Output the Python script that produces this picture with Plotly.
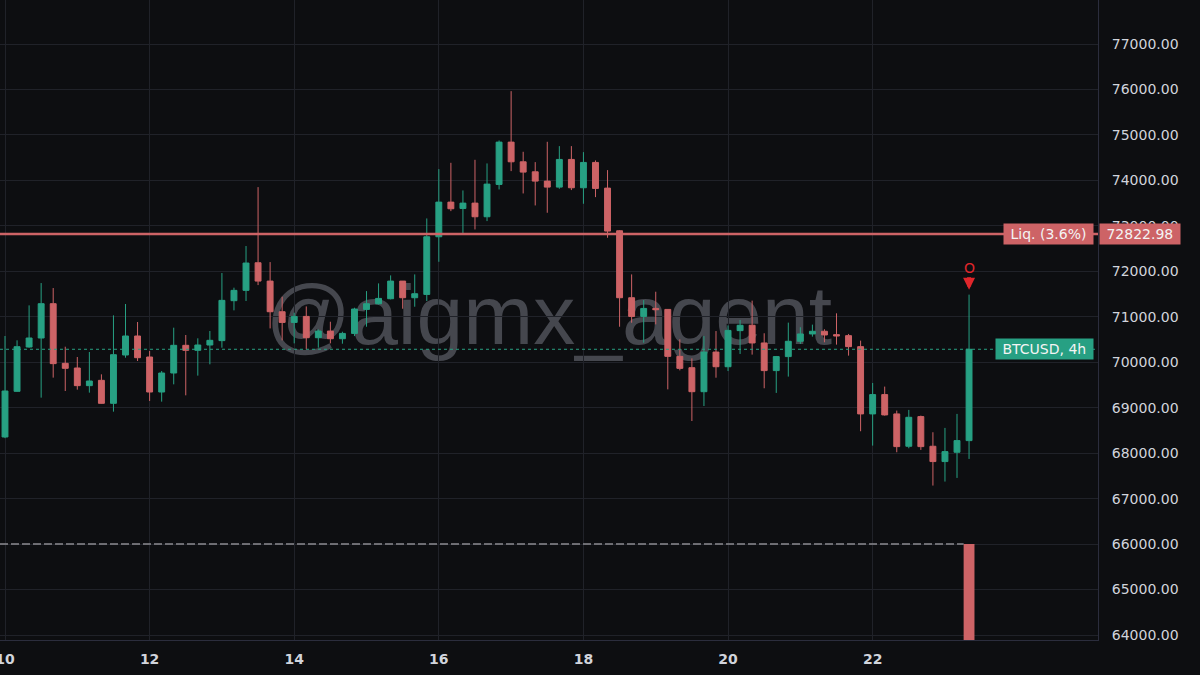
"""BTCUSD 4h candles with liquidation level, order marker and watermark (dark terminal look)."""
import datetime as dt
import plotly.graph_objects as go

# ---- Data: 4h candles, Apr 10 00:00 -> Apr 23 08:00 ----
opens = [
    68356, 69360, 70335, 70533, 71288, 69976, 69873, 69485, 69602, 69096,
    70159, 70577, 70115, 69345, 69763, 70372, 70262, 70379, 70475, 71354,
    71581, 72188, 71785, 71111, 70876, 71008, 70539, 70686, 70517, 70634,
    71162, 71287, 71397, 71785, 71419, 71492, 72760, 73522, 73383, 73500,
    73200, 73911, 74842, 74409, 74189, 73984, 73852, 74461, 73838, 74395,
    73830, 72892, 71419, 71008, 71184, 71162, 70129, 69880, 69352, 70224,
    69901, 70695, 70813, 70424, 69816, 70124, 70461, 70622, 70681, 70607,
    70585, 70343, 68863, 69288, 68863, 68152, 68804, 68152, 67815, 68020,
    68276,
]
highs = [
    70577, 70482, 71251, 71742, 71632, 70342, 70115, 70225, 69734, 71031,
    71281, 70885, 70247, 69807, 70760, 70599, 70526, 70687, 71962, 71640,
    72556, 73852, 72203, 71441, 71089, 71228, 70722, 70891, 70671, 71199,
    71565, 71734, 71910, 71785, 71932, 73163, 74248, 74387, 73779, 74453,
    74373, 74879, 75963, 74629, 74402, 74849, 74754, 74754, 74622, 74439,
    74226, 72907, 71932, 71367, 71551, 71162, 70503, 70085, 70576, 70686,
    70810, 70930, 71355, 70637, 70138, 70871, 70769, 70827, 70725, 71076,
    70622, 70475, 69544, 69464, 68936, 68951, 68826, 68460, 68555, 68863,
    71487,
]
lows = [
    68330, 69350, 70320, 69221, 69661, 69367, 69397, 69331, 69090, 68913,
    70100, 70027, 69148, 69133, 69514, 69272, 69705, 69954, 70320, 71141,
    71347, 71697, 70744, 70481, 70415, 70283, 70319, 70415, 70408, 70576,
    70781, 71272, 71382, 71177, 71221, 71346, 72210, 73324, 72826, 72921,
    73105, 73801, 74204, 73713, 73449, 73288, 73816, 73787, 73486, 73632,
    72738, 70781, 70869, 70429, 70833, 69403, 69821, 68707, 69037, 69660,
    69806, 70182, 70168, 69427, 69325, 69684, 70402, 70563, 70439, 70387,
    70145, 68482, 68166, 68826, 68020, 68108, 68071, 67287, 67375, 67455,
    67873,
]
closes = [
    69367, 70342, 70533, 71288, 69969, 69866, 69485, 69587, 69096, 70166,
    70577, 70100, 69345, 69763, 70372, 70262, 70379, 70482, 71361, 71581,
    72182, 71785, 71111, 70876, 71008, 70539, 70686, 70517, 70634, 71170,
    71287, 71404, 71785, 71419, 71507, 72760, 73522, 73376, 73500, 73200,
    73918, 74842, 74409, 74182, 73984, 73852, 74461, 73838, 74395, 73823,
    72885, 71419, 71008, 71184, 71155, 70129, 69865, 69352, 70224, 69901,
    70700, 70813, 70424, 69816, 70124, 70461, 70622, 70681, 70600, 70578,
    70343, 68863, 69288, 68841, 68144, 68789, 68144, 67815, 68034, 68276,
    70285,
]

START = dt.datetime(2024, 4, 10)
CANDLE_HOURS = 4
times = [START + dt.timedelta(hours=CANDLE_HOURS * i) for i in range(len(opens))]
tick_days = [10, 12, 14, 16, 18, 20, 22]

SYMBOL_LABEL = "BTCUSD, 4h"
LIQ_PRICE = 72822.98
LIQ_LABEL = "Liq. (3.6%)"
ORDER_LEVEL = 66000
WATERMARK = "@aigmx_agent"

# ---- Palette ----
BG = "#0d0e11"
GRID = "#202229"
AXIS_LINE = "#2b2d3d"
TEXT = "#d1d4dc"
UP = "#27a083"
DOWN = "#cd6366"
MARKER_RED = "#e0262b"
WATERMARK_COLOR = "#45474e"
FONT = "DejaVu Sans"

Y_RANGE = [63890, 77968]
X_RANGE = [START - dt.timedelta(hours=1.66), START + dt.timedelta(hours=362.8)]
NBSP = "\u00a0"

fig = go.Figure()
fig.add_trace(go.Candlestick(
    x=times, open=opens, high=highs, low=lows, close=closes,
    increasing=dict(line=dict(color=UP, width=1), fillcolor=UP),
    decreasing=dict(line=dict(color=DOWN, width=1), fillcolor=DOWN),
    whiskerwidth=0, showlegend=False, name="BTCUSD",
))

# order marker bar at the last candle, hanging down from ORDER_LEVEL
fig.add_trace(go.Bar(
    x=[times[-1]], base=[60000], y=[ORDER_LEVEL - 60000],
    width=3.6 * 3600 * 1000, marker=dict(color=DOWN, line=dict(width=0)),
    showlegend=False, hoverinfo="skip",
))

fig.update_layout(
    width=1200, height=675,
    margin=dict(l=0, r=102, t=0, b=35),
    paper_bgcolor=BG, plot_bgcolor=BG,
    font=dict(family=FONT, color=TEXT, size=14),
    showlegend=False,
    xaxis=dict(
        type="date", range=X_RANGE, rangeslider=dict(visible=False),
        tickvals=[START.replace(day=d) for d in tick_days],
        ticktext=[str(d) for d in tick_days],
        showgrid=True, gridcolor=GRID, gridwidth=1,
        showline=True, linecolor=AXIS_LINE, linewidth=1,
        ticks="", ticklabelstandoff=6, ticklabeloverflow="allow", zeroline=False,
        tickfont=dict(family=FONT, size=14, color=TEXT, weight="bold"),
        automargin=False, fixedrange=True,
    ),
    yaxis=dict(
        side="right", range=Y_RANGE, dtick=1000, tick0=0, tickformat=".2f",
        showgrid=True, gridcolor=GRID, gridwidth=1,
        showline=True, linecolor=AXIS_LINE, linewidth=1,
        ticks="", ticklabelstandoff=10, zeroline=False,
        tickfont=dict(family=FONT, size=14, color=TEXT),
        automargin=False, fixedrange=True,
    ),
)

# watermark behind the candles
fig.add_shape(
    type="rect", xref="paper", yref="paper", x0=0.25, x1=0.75, y0=0.46, y1=0.58,
    line=dict(width=0), fillcolor="rgba(0,0,0,0)", layer="below",
    label=dict(text=WATERMARK, textposition="middle center",
               font=dict(family="Liberation Sans", size=84, color=WATERMARK_COLOR)),
)

# order level: gray dashed line up to the marker bar
fig.add_shape(
    type="line", xref="x", yref="y",
    x0=X_RANGE[0], x1=times[-1] - dt.timedelta(hours=1.8), y0=ORDER_LEVEL, y1=ORDER_LEVEL,
    line=dict(color="#8a8b90", width=1.5, dash="8px,3px"),
)

# last price line
fig.add_shape(
    type="line", xref="paper", yref="y", x0=0, x1=1, y0=closes[-1], y1=closes[-1],
    line=dict(color=UP, width=1, dash="3px,3px"),
)

# liquidation level
fig.add_shape(
    type="line", xref="paper", yref="y", x0=0, x1=1, y0=LIQ_PRICE, y1=LIQ_PRICE,
    line=dict(color=DOWN, width=2.5),
)

fig.add_annotation(
    xref="paper", yref="y", x=0.9964, y=LIQ_PRICE, xanchor="right", yanchor="middle",
    text=NBSP + LIQ_LABEL + NBSP, showarrow=False, bgcolor=DOWN, borderpad=2,
    font=dict(family=FONT, size=14, color="#f4f4f4"),
)
fig.add_annotation(
    xref="paper", yref="y", x=1.0, y=LIQ_PRICE, xanchor="left", yanchor="middle", xshift=1,
    text=NBSP + f"{LIQ_PRICE:.2f}" + NBSP, showarrow=False, bgcolor=DOWN, borderpad=2,
    font=dict(family=FONT, size=14, color="#f4f4f4"),
)
fig.add_annotation(
    xref="paper", yref="y", x=0.9964, y=closes[-1], xanchor="right", yanchor="middle",
    text=NBSP + SYMBOL_LABEL + NBSP, showarrow=False, bgcolor=UP, borderpad=2,
    font=dict(family=FONT, size=14, color="#f4f4f4"),
)

# "O" order marker with down arrow above the last candle
fig.add_annotation(
    x=times[-1], y=highs[-1], text="O", showarrow=True,
    ax=0, ay=-27, standoff=5, arrowhead=2, arrowsize=0.6, arrowwidth=4,
    arrowcolor=MARKER_RED, font=dict(family=FONT, size=14, color=MARKER_RED),
)

# the page's default body margin would offset the figure by 8px
fig.write_html(
    "out.html",
    config={"displayModeBar": False},
    post_script="document.body.style.margin='0';",
)
